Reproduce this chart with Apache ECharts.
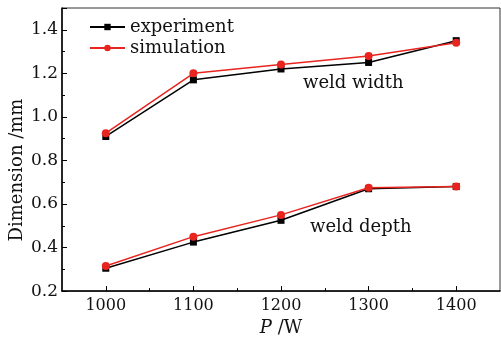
<!DOCTYPE html>
<html>
<head>
<meta charset="utf-8">
<script src="https://cdn.jsdelivr.net/npm/echarts@6/dist/echarts.min.js"></script>
<style>
  html, body { margin: 0; padding: 0; background: #fff; }
  #chart { width: 501px; height: 342px; }
</style>
</head>
<body>
<div id="chart"></div>
<script>
var power = [1000, 1100, 1200, 1300, 1400];
var widthExp = [0.91, 1.17, 1.22, 1.25, 1.35];
var widthSim = [0.925, 1.20, 1.24, 1.28, 1.34];
var depthExp = [0.305, 0.425, 0.525, 0.67, 0.68];
var depthSim = [0.315, 0.45, 0.55, 0.675, 0.68];
var majorTicks = [1000, 1100, 1200, 1300, 1400];
var minorTicks = [1050, 1150, 1250, 1350];

var FONT = 'DejaVu Serif';
var RED = '#e8241f';

function pairs(ys) {
  return power.map(function (x, i) { return [x, ys[i]]; });
}

function expSeries(ys) {
  return {
    name: 'experiment', type: 'line', data: pairs(ys),
    symbol: 'rect', symbolSize: 7,
    lineStyle: { color: '#000', width: 1.5 },
    itemStyle: { color: '#000' },
    z: 2
  };
}
function simSeries(ys) {
  return {
    name: 'simulation', type: 'line', data: pairs(ys),
    symbol: 'circle', symbolSize: 8,
    lineStyle: { color: RED, width: 1.5 },
    itemStyle: { color: RED },
    z: 3
  };
}

var myChart = echarts.init(document.getElementById('chart'));
var option = {
  backgroundColor: '#fff',
  animation: false,
  textStyle: { fontFamily: FONT },
  grid: {
    left: 62, right: 1, top: 8, bottom: 49,
    show: true, borderColor: '#333', borderWidth: 1
  },
  legend: {
    orient: 'vertical',
    left: 84, top: 13,
    itemWidth: 35, itemHeight: 8, itemGap: 3,
    data: ['experiment', 'simulation'],
    textStyle: { fontFamily: FONT, fontSize: 18, color: '#111' }
  },
  xAxis: [{
    type: 'value', min: 950, max: 1450, interval: 50,
    splitLine: { show: false },
    axisLine: { lineStyle: { color: '#000', width: 1.5 } },
    axisTick: { inside: true, length: 5, customValues: majorTicks, lineStyle: { color: '#000' } },
    axisLabel: {
      customValues: majorTicks, margin: 7, fontSize: 16, color: '#111', fontFamily: FONT,
      formatter: function (v) { return String(v); }
    },
    name: '{i|P} /W',
    nameLocation: 'middle', nameGap: 23,
    nameTextStyle: {
      fontFamily: FONT, fontSize: 18, color: '#111',
      rich: { i: { fontFamily: FONT, fontSize: 18, fontStyle: 'italic', color: '#111' } }
    }
  }, {
    type: 'value', min: 950, max: 1450, interval: 50, position: 'bottom',
    splitLine: { show: false },
    axisLine: { show: false },
    axisTick: { inside: true, length: 3, customValues: minorTicks, lineStyle: { color: '#000' } },
    axisLabel: { show: false }
  }],
  yAxis: {
    type: 'value', min: 0.2, max: 1.5, interval: 0.2,
    splitLine: { show: false },
    axisLine: { show: true, lineStyle: { color: '#000', width: 1.5 } },
    axisTick: { show: true, inside: true, length: 5, lineStyle: { color: '#000' } },
    minorTick: { show: true, splitNumber: 2, length: 3, lineStyle: { color: '#000' } },
    axisLabel: {
      margin: 4, fontSize: 17, color: '#111', fontFamily: FONT, showMaxLabel: false,
      formatter: function (v) { return v.toFixed(1); }
    }
  },
  graphic: [
    { type: 'text', left: 303, top: 74, style: { text: 'weld width', fontFamily: FONT, fontSize: 18, fill: '#111' } },
    { type: 'text', left: 310, top: 218, style: { text: 'weld depth', fontFamily: FONT, fontSize: 18, fill: '#111' } },
    { type: 'text', x: 17, y: 170, rotation: Math.PI / 2,
      style: { text: 'Dimension /mm', fontFamily: FONT, fontSize: 18, fill: '#111', align: 'center', verticalAlign: 'middle' } }
  ],
  series: [
    expSeries(widthExp),
    simSeries(widthSim),
    expSeries(depthExp),
    simSeries(depthSim)
  ]
};
myChart.setOption(option);
</script>
</body>
</html>
